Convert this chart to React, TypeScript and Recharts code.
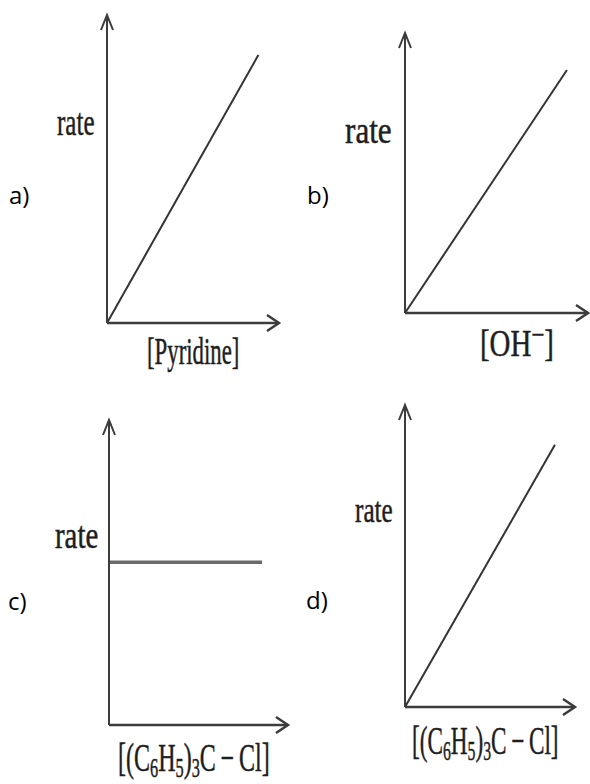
import { LineChart, Line, XAxis, YAxis } from 'recharts'
import type { ReactNode } from 'react'

// values, as fractions of each axis length
const pyridineConc = [0, 0.88]
const pyridineRate = [0, 0.87]
const hydroxideConc = [0, 0.885]
const hydroxideRate = [0, 0.868]
const tritylConcC = [0, 0.855]
const tritylRateC = [0.534, 0.534]
const tritylConcD = [0, 0.882]
const tritylRateD = [0, 0.868]

const AXIS = '#3c3c3c'
const SERIF = '"Liberation Serif", "Times New Roman", serif'
const SANS = '"Open Sans", "Noto Sans", sans-serif'
const M = 20

function RatePlot({
  id,
  originX,
  originY,
  plotW,
  plotH,
  xs,
  ys,
  stroke = '#333',
  strokeWidth = 2,
}: {
  id: string
  originX: number
  originY: number
  plotW: number
  plotH: number
  xs: number[]
  ys: number[]
  stroke?: string
  strokeWidth?: number
}) {
  const data = xs.map((x, i) => ({ x, rate: ys[i] }))
  return (
    <div style={{ position: 'absolute', left: originX - M - 1, top: originY - plotH - M }}>
      <LineChart width={plotW + 2 * M + 1} height={plotH + 2 * M + 1} data={data} margin={{ top: M, right: M, bottom: M, left: M }}>
        <defs>
          <marker id={`${id}-up`} markerUnits="userSpaceOnUse" orient="auto-start-reverse" refX={15} refY={0} markerWidth={16} markerHeight={16} overflow="visible">
            <path d="M0,-6 L15,0 L0,6" fill="none" stroke={AXIS} strokeWidth={2} />
          </marker>
          <marker id={`${id}-right`} markerUnits="userSpaceOnUse" orient="auto" refX={12} refY={0} markerWidth={16} markerHeight={16} overflow="visible">
            <path d="M0,-8 L12,0 L0,8" fill="none" stroke={AXIS} strokeWidth={2.5} />
          </marker>
        </defs>
        <XAxis
          type="number"
          dataKey="x"
          domain={[0, 1]}
          tick={false}
          tickLine={false}
          height={1}
          axisLine={{ stroke: AXIS, strokeWidth: 2.5, markerEnd: `url(#${id}-right)` }}
        />
        <YAxis
          type="number"
          domain={[0, 1]}
          tick={false}
          tickLine={false}
          width={1}
          axisLine={{ stroke: AXIS, strokeWidth: 2, markerStart: `url(#${id}-up)` }}
        />
        <Line dataKey="rate" stroke={stroke} strokeWidth={strokeWidth} dot={false} isAnimationActive={false} />
      </LineChart>
    </div>
  )
}

// serif text placed by its baseline, squeezed sideways like the scanned figure
function Txt({ x, base, size, sx, children }: { x: number; base: number; size: number; sx: number; children: ReactNode }) {
  return (
    <div
      style={{
        position: 'absolute',
        left: x,
        top: base - 0.8375 * size,
        fontFamily: SERIF,
        fontSize: size,
        lineHeight: 1,
        color: '#1e1e1e',
        WebkitTextStroke: '0.5px #1e1e1e',
        whiteSpace: 'nowrap',
        transform: `scaleX(${sx})`,
        transformOrigin: 'left',
      }}
    >
      {children}
    </div>
  )
}

function Tag({ x, y, children }: { x: number; y: number; children: ReactNode }) {
  return (
    <div style={{ position: 'absolute', left: x, top: y, fontFamily: SANS, fontSize: 24, lineHeight: 1, color: '#000' }}>
      {children}
    </div>
  )
}

const sub = { fontSize: '0.68em', verticalAlign: '-0.22em', lineHeight: 0 }

function Trityl() {
  return (
    <>
      [(C<span style={sub}>6</span>H<span style={sub}>5</span>)<span style={sub}>3</span>C{'\u2009\u2212\u2009'}Cl]
    </>
  )
}

export default function App() {
  return (
    <div style={{ position: 'absolute', left: 0, top: 0, width: 590, height: 784, background: '#fff', overflow: 'hidden' }}>
      <RatePlot id="a" originX={107} originY={323} plotW={172} plotH={308} xs={pyridineConc} ys={pyridineRate} />
      <RatePlot id="b" originX={405} originY={313} plotW={183} plotH={280} xs={hydroxideConc} ys={hydroxideRate} />
      <RatePlot id="c" originX={109} originY={725} plotW={179} plotH={305} xs={tritylConcC} ys={tritylRateC} stroke="#6a6a6a" strokeWidth={3.5} />
      <RatePlot id="d" originX={405} originY={707} plotW={170} plotH={302} xs={tritylConcD} ys={tritylRateD} />

      <Txt x={57} base={135} size={38} sx={0.66}>rate</Txt>
      <Txt x={345} base={143} size={38} sx={0.82}>rate</Txt>
      <Txt x={55} base={548} size={38} sx={0.76}>rate</Txt>
      <Txt x={355} base={522} size={36} sx={0.7}>rate</Txt>

      <Txt x={147} base={364} size={38} sx={0.6}>[Pyridine]</Txt>
      <Txt x={480} base={356} size={38} sx={0.76}>
        [OH<span style={{ fontSize: '0.8em', verticalAlign: '0.35em', lineHeight: 0 }}>{'\u2212'}</span>]
      </Txt>
      <Txt x={118} base={771} size={40} sx={0.6}><Trityl /></Txt>
      <Txt x={412} base={754} size={40} sx={0.58}><Trityl /></Txt>

      <Tag x={9} y={183}>a)</Tag>
      <Tag x={307} y={183}>b)</Tag>
      <Tag x={8} y={589}>c)</Tag>
      <Tag x={306} y={588}>d)</Tag>
    </div>
  )
}
